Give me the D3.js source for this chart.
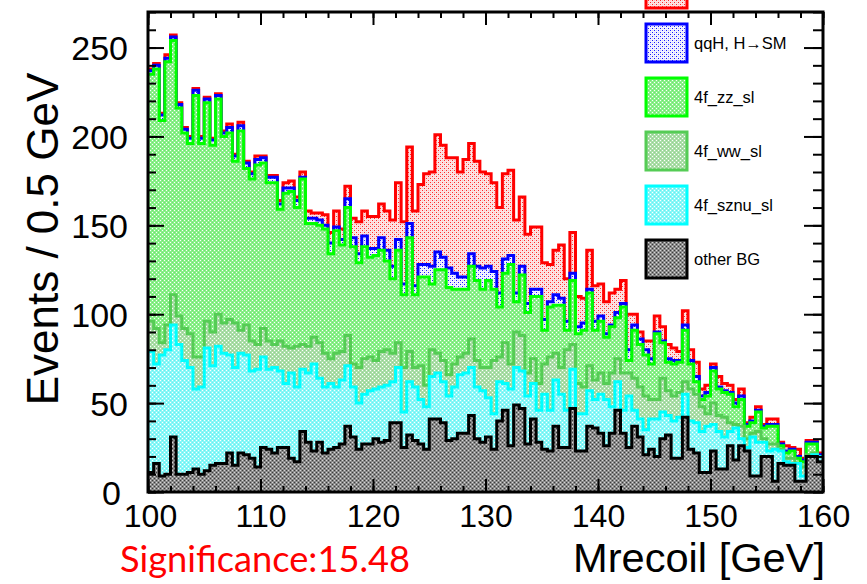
<!DOCTYPE html>
<html>
<head>
<meta charset="utf-8">
<script src="https://cdn.jsdelivr.net/npm/d3@7"></script>
<style>
  html, body { margin: 0; padding: 0; background: #fff; }
  svg { display: block; font-family: "Liberation Sans", Arial, sans-serif; }
</style>
</head>
<body>
<svg id="chart" width="867" height="584"></svg>
<script>
// Recoil-mass histogram, 0.5 GeV bins from 100 to 160 GeV (120 bins), stacked by process.
const massLow = 100, massHigh = 160, binWidth = 0.5;

const otherBG = [
  11,16,9,10,31,10,10,11,13,10, 12,15,16,16,22,15,22,21,19,14,
  25,24,22,25,25,19,17,34,28,23, 28,22,24,25,27,37,31,24,27,27,
  30,28,29,39,39,25,32,29,27,24, 41,41,39,29,30,33,33,43,30,28,
  31,24,40,46,26,49,47,27,41,28, 24,23,37,25,25,47,23,23,37,36,
  33,26,33,46,33,25,37,31,21,24, 20,30,32,19,19,42,24,22,11,11,
  23,13,13,26,18,26,23,9,9,20,   20,6,16,15,15,6,6,20,20,17
];
const sznuSL = [
  68,56,68,70,63,73,64,59,45,49, 69,56,66,62,55,55,56,56,49,55,
  51,45,48,43,36,48,42,35,39,49, 36,37,37,34,36,34,28,26,28,30,
  28,31,31,23,31,20,30,30,25,24, 24,26,23,25,29,33,34,27,29,29,
  22,20,22,15,32,21,21,27,20,18, 31,23,26,30,21,22,21,21,20,16,
  22,26,15,16,13,29,9,10,14,17,  21,15,11,21,23,13,16,17,23,26,
  15,21,18,8,18,4,2,22,19,8,     3,18,7,2,1,10,3,0,1,3
];
const wwSL = [
  17,20,7,14,17,16,18,19,18,17,  15,19,18,17,20,25,13,17,17,14,
  16,16,13,17,21,14,23,14,15,15, 20,19,14,19,16,17,13,20,20,19,
  16,20,20,16,14,25,17,11,19,12, 15,11,12,12,13,10,11,16,15,13,
  17,30,14,23,14,20,20,13,14,15, 17,30,15,15,34,14,17,15,14,11,
  12,9,19,13,21,13,18,18,19,11,  11,19,14,14,14,7,18,16,14,7,
  12,9,11,5,2,7,5,2,6,2,         4,3,1,2,3,0,5,1,1,0
];
const zzSL = [
  139,146,125,148,143,117,110,107,147,120, 123,105,121,105,105,91,112,88,91,101,
  93,89,91,74,86,88,78,93,69,64,           66,70,59,69,60,72,66,59,63,56,
  59,57,50,42,52,41,64,41,50,61,           37,47,51,49,42,38,36,41,45,44,
  49,40,28,39,56,17,34,34,35,49,           19,28,27,35,11,36,28,32,41,28,
  29,26,26,23,37,7,27,24,23,20,            37,20,16,18,17,29,14,7,4,10,
  18,15,14,16,10,15,7,6,11,6,              10,10,2,3,4,3,3,6,5,0
];
const qqH = [
  2,2,3,2,2,2,2,3,3,3,   2,3,2,2,3,3,3,3,3,3,
  3,3,3,3,3,2,4,1,3,3,   3,2,6,2,3,5,5,5,6,5,
  4,7,6,7,6,6,8,5,7,7,   10,10,7,11,9,7,7,7,8,12,
  8,10,8,8,5,5,5,5,4,4,  6,3,6,4,5,4,4,4,2,5,
  3,2,1,3,2,6,3,3,3,3,   1,1,2,2,1,3,2,3,2,2,
  2,1,1,1,2,2,1,1,1,1,   1,1,1,1,1,1,1,1,1,1
];
const signal = [
  1,1,1,2,1,1,1,1,1,1,        1,1,1,1,2,1,2,1,1,2,
  1,1,1,2,3,4,2,3,4,3,        4,6,6,9,6,7,11,18,14,18,
  18,19,22,26,32,35,43,42,45,51, 53,66,63,62,65,59,66,62,59,54,
  52,50,48,48,48,41,39,39,35,35, 32,21,25,30,24,23,17,14,22,20,
  18,18,18,13,13,20,6,4,5,10,  9,8,8,7,5,8,6,8,4,4,
  2,6,4,4,2,4,1,2,2,1,         3,3,1,3,1,4,1,1,1,1
];

const xTickValues = [100, 110, 120, 130, 140, 150, 160];
const yTickValues = [0, 50, 100, 150, 200, 250];
const legendLabels = ["", "qqH, H\u2192SM", "4f_zz_sl", "4f_ww_sl", "4f_sznu_sl", "other BG"];
const yTitle = "Events / 0.5 GeV";
const xTitle = "Mrecoil [GeV]";
const significanceText = "Significance:15.48";

// Process styles, bottom of the stack first.
const processes = [
  { key: "other",  values: otherBG, line: "#000000", base: "#8a8a8a", dot: "#3c3c3c", dot2: "#d6d6d6" },
  { key: "sznu",   values: sznuSL,  line: "#00ffff", base: "#8af8f8", dot: "#ffffff", dot2: "#66eeee" },
  { key: "ww",     values: wwSL,    line: "#55cc55", base: "#abdea8", dot: "#ffffff", dot2: "#92d090" },
  { key: "zz",     values: zzSL,    line: "#00ff00", base: "#8af08a", dot: "#ffffff", dot2: "#6ee46e" },
  { key: "qqH",    values: qqH,     line: "#0000ff", base: "#f4f4ff", dot: "#1a1aff", dot2: "#d0d0ff" },
  { key: "signal", values: signal,  line: "#ff0000", base: "#fde4e4", dot: "#ff2a2a", dot2: "#f8c4c4" }
];

const svg = d3.select("#chart");
const frame = { left: 148, right: 823, top: 12, bottom: 492 };

const x = d3.scaleLinear().domain([massLow, massHigh]).range([frame.left, frame.right]);
const y = d3.scaleLinear().domain([0, 270]).range([frame.bottom, frame.top]);

// Fill textures
const defs = svg.append("defs");
processes.forEach(p => {
  const pat = defs.append("pattern")
    .attr("id", "pat-" + p.key)
    .attr("patternUnits", "userSpaceOnUse")
    .attr("width", 4).attr("height", 4);
  pat.append("rect").attr("width", 4).attr("height", 4).attr("fill", p.base);
  [[0, 0], [2, 2]].forEach(([a, b]) =>
    pat.append("rect").attr("x", a).attr("y", b).attr("width", 1).attr("height", 1).attr("fill", p.dot));
  [[0, 2], [2, 0]].forEach(([a, b]) =>
    pat.append("rect").attr("x", a).attr("y", b).attr("width", 1).attr("height", 1).attr("fill", p.dot2));
});
defs.append("clipPath").attr("id", "frame-clip")
  .append("rect")
  .attr("x", frame.left).attr("y", frame.top)
  .attr("width", frame.right - frame.left).attr("height", frame.bottom - frame.top);

// Stack the processes
const nBins = otherBG.length;
const rows = d3.range(nBins).map(i => {
  const r = { lo: massLow + i * binWidth };
  processes.forEach(p => { r[p.key] = p.values[i]; });
  return r;
});
const stacked = d3.stack().keys(processes.map(p => p.key))(rows);

const area = d3.area().x(d => x(d.m)).y0(y(0)).y1(d => y(d.v));
const line = d3.line().x(d => x(d.m)).y(d => y(d.v));

const plot = svg.append("g").attr("clip-path", "url(#frame-clip)");

// Each cumulative histogram is filled from zero; the top of the stack is painted first.
stacked.slice().reverse().forEach(layer => {
  const p = processes.find(q => q.key === layer.key);
  const pts = layer.flatMap((d, i) => [
    { m: rows[i].lo, v: d[1] },
    { m: rows[i].lo + binWidth, v: d[1] }
  ]);
  plot.append("path").attr("d", area(pts)).attr("fill", `url(#pat-${p.key})`);
  plot.append("path").attr("d", line(pts))
    .attr("fill", "none").attr("stroke", p.line)
    .attr("stroke-width", 3).attr("stroke-linejoin", "miter");
});

// Axes with inward ticks on all four sides
const xMinor = d3.range(massLow, massHigh + 0.001, 2);
const yMinor = d3.range(0, 271, 10);

function styleAxis(g) {
  g.select(".domain").remove();
  g.selectAll(".tick line").attr("stroke", "#000").attr("stroke-width", 2);
}

svg.append("g").attr("transform", `translate(0,${frame.bottom})`)
  .call(d3.axisBottom(x).tickValues(xMinor).tickSize(-6).tickFormat(""))
  .call(styleAxis);
svg.append("g").attr("transform", `translate(0,${frame.bottom})`)
  .call(d3.axisBottom(x).tickValues(xTickValues).tickSize(-13).tickPadding(12).tickFormat(d3.format("d")))
  .call(styleAxis)
  .call(g => g.selectAll("text")
    .attr("font-family", "'Liberation Sans', Arial, sans-serif")
    .attr("font-size", 32).attr("fill", "#000")
    .attr("x", d => (d === massLow ? 2 : 0)));

svg.append("g").attr("transform", `translate(0,${frame.top})`)
  .call(d3.axisTop(x).tickValues(xMinor).tickSize(-6).tickFormat(""))
  .call(styleAxis);
svg.append("g").attr("transform", `translate(0,${frame.top})`)
  .call(d3.axisTop(x).tickValues(xTickValues).tickSize(-13).tickFormat(""))
  .call(styleAxis);

svg.append("g").attr("transform", `translate(${frame.left},0)`)
  .call(d3.axisLeft(y).tickValues(yMinor).tickSize(-8).tickFormat(""))
  .call(styleAxis);
svg.append("g").attr("transform", `translate(${frame.left},0)`)
  .call(d3.axisLeft(y).tickValues(yTickValues).tickSize(-16).tickPadding(20).tickFormat(d3.format("d")))
  .call(styleAxis)
  .call(g => g.selectAll("text")
    .attr("font-family", "'Liberation Sans', Arial, sans-serif")
    .attr("font-size", 34).attr("fill", "#000").attr("dy", "0.36em")
    .attr("x", d => (d === 0 ? -27 : -20)));

svg.append("g").attr("transform", `translate(${frame.right},0)`)
  .call(d3.axisRight(y).tickValues(yMinor).tickSize(-10).tickFormat(""))
  .call(styleAxis);
svg.append("g").attr("transform", `translate(${frame.right},0)`)
  .call(d3.axisRight(y).tickValues(yTickValues).tickSize(-19).tickFormat(""))
  .call(styleAxis);

// Frame
svg.append("rect")
  .attr("x", frame.left).attr("y", frame.top)
  .attr("width", frame.right - frame.left).attr("height", frame.bottom - frame.top)
  .attr("fill", "none").attr("stroke", "#000").attr("stroke-width", 3);

// Legend, top entry first
const legendOrder = processes.slice().reverse();
const legend = svg.append("g");
legendOrder.forEach((p, k) => {
  const top = -30 + 54 * k;
  legend.append("rect")
    .attr("x", 646).attr("y", top).attr("width", 41).attr("height", 38)
    .attr("fill", `url(#pat-${p.key})`)
    .attr("stroke", p.line).attr("stroke-width", 3);
  if (legendLabels[k]) {
    legend.append("text")
      .attr("x", 694).attr("y", top + 19)
      .attr("dominant-baseline", "central")
      .attr("font-size", 16.5).attr("fill", "#000")
      .text(legendLabels[k]);
  }
});

// Titles
svg.append("text")
  .attr("transform", "translate(58,239) rotate(-90)")
  .attr("text-anchor", "middle")
  .attr("font-size", 44).attr("fill", "#000")
  .text(yTitle);

svg.append("text")
  .attr("x", 825).attr("y", 572)
  .attr("text-anchor", "end")
  .attr("font-size", 40).attr("fill", "#000")
  .attr("textLength", 252).attr("lengthAdjust", "spacingAndGlyphs")
  .text(xTitle);

svg.append("text")
  .attr("x", 120).attr("y", 572)
  .attr("font-family", "Lato, 'Liberation Sans', sans-serif")
  .attr("font-size", 36).attr("fill", "#ff0000")
  .attr("textLength", 290).attr("lengthAdjust", "spacingAndGlyphs")
  .text(significanceText);
</script>
</body>
</html>
